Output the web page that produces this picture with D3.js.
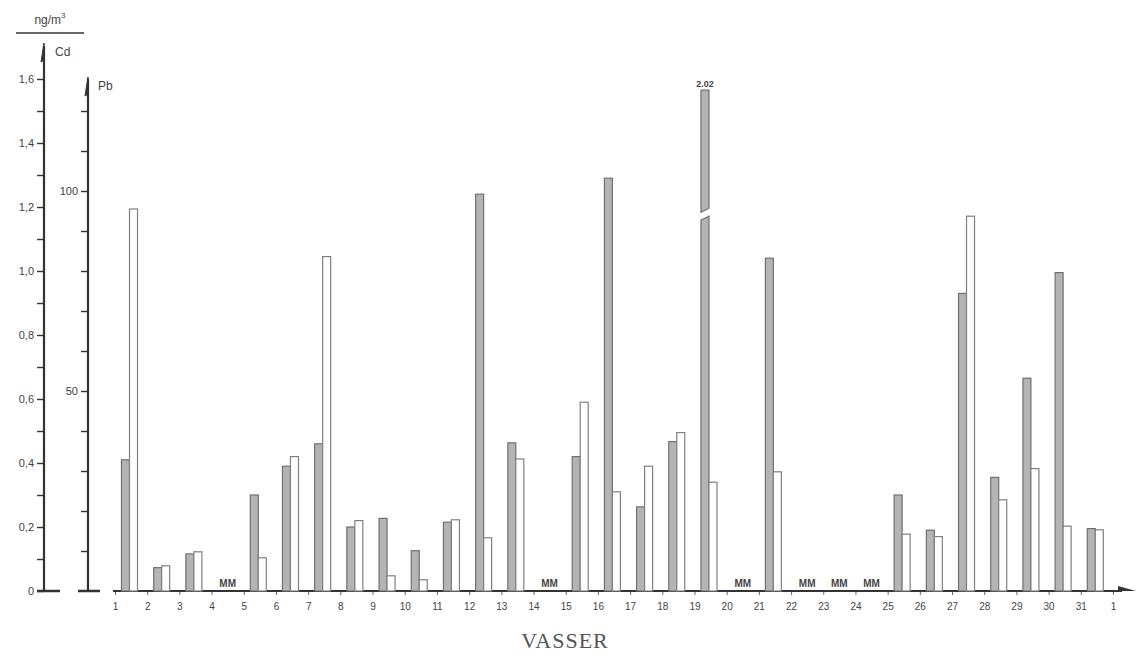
<!DOCTYPE html>
<html>
<head>
<meta charset="utf-8">
<script src="https://cdn.jsdelivr.net/npm/d3@7"></script>
<style>
  html, body { margin: 0; padding: 0; background: #fff; }
  svg { display: block; }
  .lbl { font-family: "Liberation Sans", "DejaVu Sans", sans-serif; fill: #444; }
</style>
</head>
<body>
<svg id="chart"></svg>
<script>
// =============================================================================
// DATA  (day of month, Cd and Pb in ng/m3; null = MM, no measurement)
// =============================================================================
const dayLabels = ['1','2','3','4','5','6','7','8','9','10','11','12','13','14','15','16',
                   '17','18','19','20','21','22','23','24','25','26','27','28','29','30','31','1'];
const cdValues = [0.41, 0.073, 0.116, null, 0.30, 0.39, 0.46, 0.20, 0.227, 0.126, 0.215, 1.24,
                  0.463, null, 0.42, 1.29, 0.263, 0.467, 2.02, null, 1.04, null, null, null,
                  0.30, 0.19, 0.93, 0.355, 0.665, 0.995, 0.195];
const pbValues = [95.5, 6.3, 9.8, null, 8.3, 33.6, 83.6, 17.6, 3.8, 2.8, 17.8, 13.3,
                  33, null, 47.2, 24.8, 31.2, 39.6, 27.2, null, 29.8, null, null, null,
                  14.2, 13.6, 93.7, 22.8, 30.6, 16.2, 15.3];
const cdTicks = [0, 0.2, 0.4, 0.6, 0.8, 1.0, 1.2, 1.4, 1.6];
const pbTicks = [50, 100];

const W = 1136, H = 660;
const baseY = 591;
const topY = 79;

const svg = d3.select('#chart').attr('width', W).attr('height', H);

const x = d3.scaleLinear().domain([0, 31]).range([115, 1113]);
const yCd = d3.scaleLinear().domain([0, 1.6]).range([baseY, topY]);
const yPb = d3.scaleLinear().domain([0, 128]).range([baseY, topY]);

const axisColor = '#333';
const fmtComma = d => d === 0 ? '0' : d3.format('.1f')(d).replace('.', ',');

// --- Cd axis -----------------------------------------------------------------
const cdX = 44;
const gCd = svg.append('g').attr('transform', `translate(${cdX},0)`);
gCd.call(d3.axisLeft(yCd).tickValues(d3.range(0, 1.61, 0.1)).tickSize(7)
        .tickFormat(d => cdTicks.some(t => Math.abs(t - d) < 1e-6) ? fmtComma(Math.round(d * 10) / 10) : ''))
   .call(ax => ax.select('.domain').remove())
   .call(ax => ax.selectAll('.tick line').attr('stroke', axisColor).attr('stroke-width', 1.4))
   .call(ax => ax.selectAll('.tick text').attr('class', 'lbl').attr('fill', '#444')
                 .attr('font-size', 11).attr('x', -10));
gCd.append('line').attr('x1', 0).attr('x2', 0).attr('y1', baseY).attr('y2', 46)
   .attr('stroke', axisColor).attr('stroke-width', 2.2);
gCd.append('path').attr('d', `M-7,${baseY}H16`).attr('stroke', axisColor).attr('stroke-width', 2.5);
gCd.append('path').attr('d', 'M0,43 L-3,62 L0,60 Z').attr('fill', axisColor).attr('stroke', axisColor);

// --- Pb axis -----------------------------------------------------------------
const pbX = 88;
const gPb = svg.append('g').attr('transform', `translate(${pbX},0)`);
gPb.call(d3.axisLeft(yPb).tickValues(d3.range(10, 121, 10)).tickSize(7)
        .tickFormat(d => pbTicks.includes(d) ? d : ''))
   .call(ax => ax.select('.domain').remove())
   .call(ax => ax.selectAll('.tick line').attr('stroke', axisColor).attr('stroke-width', 1.4))
   .call(ax => ax.selectAll('.tick text').attr('class', 'lbl').attr('fill', '#444')
                 .attr('font-size', 11).attr('x', -10));
gPb.append('line').attr('x1', 0).attr('x2', 0).attr('y1', baseY).attr('y2', 79)
   .attr('stroke', axisColor).attr('stroke-width', 2.2);
gPb.append('path').attr('d', `M-10,${baseY}H12`).attr('stroke', axisColor).attr('stroke-width', 2.5);
gPb.append('path').attr('d', 'M0,77 L-3,96 L0,94 Z').attr('fill', axisColor).attr('stroke', axisColor);

// --- unit / series labels ----------------------------------------------------
const unit = svg.append('text').attr('class', 'lbl').attr('x', 50).attr('y', 24)
   .attr('text-anchor', 'middle').attr('font-size', 12);
unit.append('tspan').text('ng/m');
unit.append('tspan').attr('font-size', 8).attr('dy', -6).text('3');
svg.append('line').attr('x1', 16).attr('x2', 84).attr('y1', 33).attr('y2', 33)
   .attr('stroke', axisColor).attr('stroke-width', 1.4);
svg.append('text').attr('class', 'lbl').attr('x', 55).attr('y', 56).attr('font-size', 12).text('Cd');
svg.append('text').attr('class', 'lbl').attr('x', 98).attr('y', 90).attr('font-size', 12).text('Pb');

// --- x axis ------------------------------------------------------------------
const gX = svg.append('g').attr('transform', `translate(0,${baseY})`);
gX.call(d3.axisBottom(x).tickValues(d3.range(0, 32)).tickSize(4).tickFormat(i => dayLabels[i]))
  .call(ax => ax.select('.domain').remove())
  .call(ax => ax.selectAll('.tick line').attr('stroke', '#666').attr('stroke-width', 1))
  .call(ax => ax.selectAll('.tick text').attr('class', 'lbl').attr('fill', '#444')
                .attr('font-size', 10).attr('dy', '1.2em'));
gX.append('line').attr('x1', 113).attr('x2', 1122).attr('y1', 0).attr('y2', 0)
  .attr('stroke', axisColor).attr('stroke-width', 2);
gX.append('path').attr('d', 'M1118,-5 L1136,0 L1118,0 Z').attr('fill', axisColor);

// --- bars ----------------------------------------------------------------------
const barW = 8, cdOff = 6.5, pbOff = 14.5;
const cdCap = 1.565;                 // drawn height of the broken 2.02 bar
const breakLo = 1.165, breakHi = 1.19;

const days = d3.range(0, 31);
const gBars = svg.append('g');

days.forEach(i => {
    const cd = cdValues[i], pb = pbValues[i];
    if (cd !== null) {
        const x0 = x(i) + cdOff;
        if (cd > 1.6) {
            // broken bar with the true value written on top
            gBars.append('path')
                .attr('d', `M${x0},${yCd(0)}V${yCd(breakLo) + 2}L${x0 + barW},${yCd(breakLo) - 2}V${yCd(0)}Z`)
                .attr('fill', '#b4b4b4').attr('stroke', '#707070').attr('stroke-width', 1.2);
            gBars.append('path')
                .attr('d', `M${x0},${yCd(breakHi) + 2}V${yCd(cdCap)}H${x0 + barW}V${yCd(breakHi) - 2}Z`)
                .attr('fill', '#b4b4b4').attr('stroke', '#707070').attr('stroke-width', 1.2);
            svg.append('text').attr('class', 'lbl').attr('x', x0 + barW / 2).attr('y', yCd(cdCap) - 3)
                .attr('text-anchor', 'middle').attr('font-size', 9).attr('font-weight', 'bold')
                .text(cd.toFixed(2));
        } else {
            gBars.append('rect').attr('x', x0).attr('y', yCd(cd)).attr('width', barW)
                .attr('height', yCd(0) - yCd(cd))
                .attr('fill', '#b4b4b4').attr('stroke', '#707070').attr('stroke-width', 1.2);
        }
    }
    if (pb !== null) {
        gBars.append('rect').attr('x', x(i) + pbOff).attr('y', yPb(pb)).attr('width', barW)
            .attr('height', yPb(0) - yPb(pb))
            .attr('fill', '#fff').attr('stroke', '#808080').attr('stroke-width', 1.2);
    }
    if (cd === null && pb === null) {
        svg.append('text').attr('class', 'lbl').attr('x', x(i + 0.5)).attr('y', baseY - 4)
            .attr('text-anchor', 'middle').attr('font-size', 10).attr('font-weight', 'bold')
            .attr('fill', '#333').text('MM');
    }
});

// --- title ---------------------------------------------------------------------
svg.append('text').attr('x', 565).attr('y', 648).attr('text-anchor', 'middle')
   .attr('font-family', '"Liberation Serif", "DejaVu Serif", serif')
   .attr('font-size', 22).attr('fill', '#555').attr('letter-spacing', 1).text('VASSER');
</script>
</body>
</html>
